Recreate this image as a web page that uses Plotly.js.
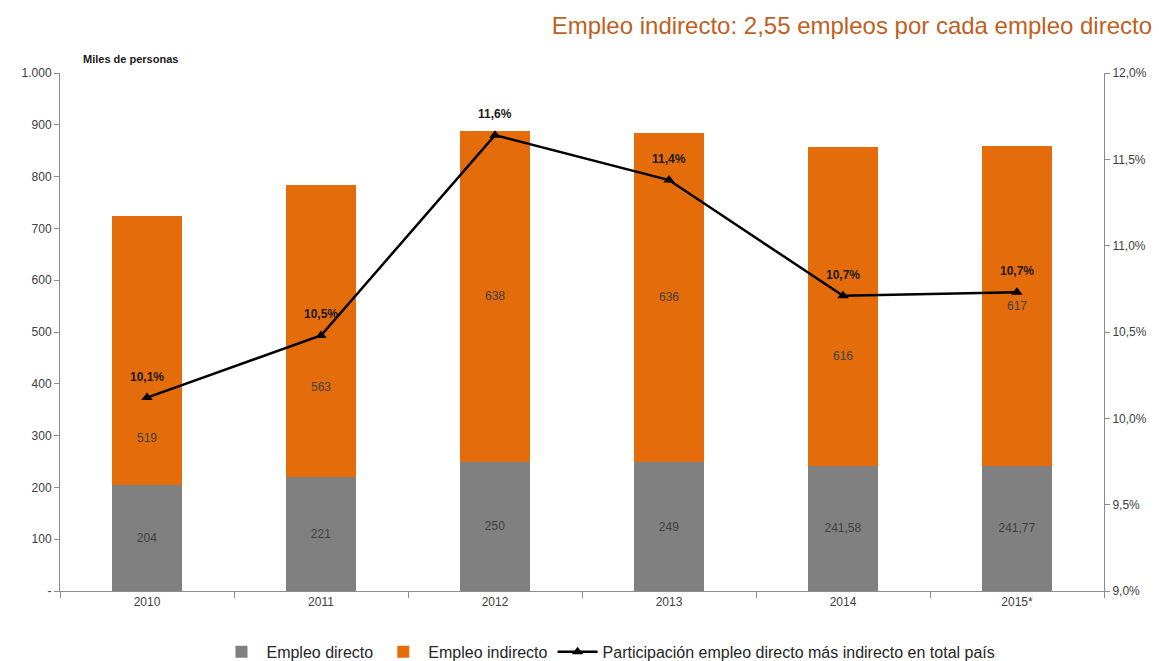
<!DOCTYPE html>
<html><head><meta charset="utf-8">
<script src="https://cdn.plot.ly/plotly-3.0.1.min.js"></script>
<style>html,body{margin:0;padding:0;background:#fff}#c{width:1159px;height:661px}</style>
</head><body><div id="c"></div>
<script>
const years = ['2010','2011','2012','2013','2014','2015*'];
const directo = [204, 221, 250, 249, 241.58, 241.77];
const directoLabels = ['204','221','250','249','241,58','241,77'];
const indirecto = [519, 563, 638, 636, 616, 617];
const participacion = [0.1012, 0.1048, 0.1164, 0.1138, 0.1071, 0.1073];
const participacionLabels = ['10,1%','10,5%','11,6%','11,4%','10,7%','10,7%'];
const leftTickVals = [0,100,200,300,400,500,600,700,800,900,1000];
const leftTickText = ['-','100','200','300','400','500','600','700','800','900','1.000'];

// label nudges (pixels) for indirect labels, to avoid the line, as in reference
const indirectShift = [-87, -56, 0, 0, -50, 0];

const font = 'Liberation Sans, Arial, sans-serif';
const txtColor = '#404040';

const traces = [
  {type:'bar', name:'Empleo directo', x:years, y:directo, marker:{color:'#808080'},
   text:directoLabels, textposition:'inside', insidetextanchor:'middle',
   textfont:{family:font,size:12,color:txtColor}, hoverinfo:'none'},
  {type:'bar', name:'Empleo indirecto', x:years, y:indirecto, marker:{color:'#E46C0A'},
   hoverinfo:'none'},
  {type:'scatter', mode:'lines+markers', name:'Participación empleo directo más indirecto en total país',
   x:years, y:participacion, yaxis:'y2',
   line:{color:'#000000', width:2.5}, marker:{symbol:'triangle-up', size:10, color:'#000000'},
   hoverinfo:'none'}
];

const annotations = years.map((yr,i)=>({
  x:i, y:directo[i]+indirecto[i]/2, xref:'x', yref:'y',
  text:String(indirecto[i]), showarrow:false, yshift:indirectShift[i],
  font:{family:font,size:12,color:txtColor}
}));
years.forEach((yr,i)=>annotations.push({
  x:i, y:participacion[i], xref:'x', yref:'y2', text:'<b>'+participacionLabels[i]+'</b>',
  showarrow:false, yshift:21, font:{family:font,size:12,color:'#1a1a1a'}
}));
annotations.push({xref:'paper', yref:'paper', x:0.02, y:1.0, yshift:14, xanchor:'left', yanchor:'middle',
  text:'<b>Miles de personas</b>', showarrow:false, font:{family:font,size:11,color:'#1a1a1a'}});

const layout = {
  width:1159, height:661,
  margin:{l:60, r:55, t:73, b:70},
  paper_bgcolor:'#fff', plot_bgcolor:'#fff',
  separators:',.',
  barmode:'stack', bargap:0.6,
  title:{text:'Empleo indirecto: 2,55 empleos por cada empleo directo', x:0.994, xanchor:'right', xref:'container',
         y:0.962, yanchor:'middle', yref:'container',
         font:{family:font, size:24, color:'#C0601F'}},
  xaxis:{type:'category', range:[-0.5,5.5], autorange:false, showline:true, linecolor:'#8c8c8c', linewidth:1,
         ticks:'outside', tickson:'boundaries',
         ticklen:6, tickcolor:'#8c8c8c', tickfont:{family:font,size:12,color:txtColor}, showgrid:false, zeroline:false},
  yaxis:{range:[0,1000], autorange:false, tickvals:leftTickVals, ticktext:leftTickText, showline:true, linecolor:'#8c8c8c', linewidth:1,
         ticks:'outside', ticklen:5, tickcolor:'#8c8c8c', tickfont:{family:font,size:12,color:txtColor},
         showgrid:false, zeroline:false},
  yaxis2:{overlaying:'y', side:'right', range:[0.09,0.12], autorange:false, dtick:0.005, tickformat:'.1%', showline:true,
          linecolor:'#8c8c8c', linewidth:1, ticks:'outside', ticklen:5, tickcolor:'#8c8c8c',
          tickfont:{family:font,size:12,color:txtColor}, showgrid:false, zeroline:false},
  legend:{orientation:'h', xref:'container', yref:'container', x:0.525, xanchor:'center', y:0.014, yanchor:'middle',
          traceorder:'normal', font:{family:font,size:16,color:'#262626'}, itemwidth:40, tracegroupgap:0},
  annotations:annotations,
  showlegend:true
};

Plotly.newPlot('c', traces, layout, {displayModeBar:false, staticPlot:true});
</script>
</body></html>
